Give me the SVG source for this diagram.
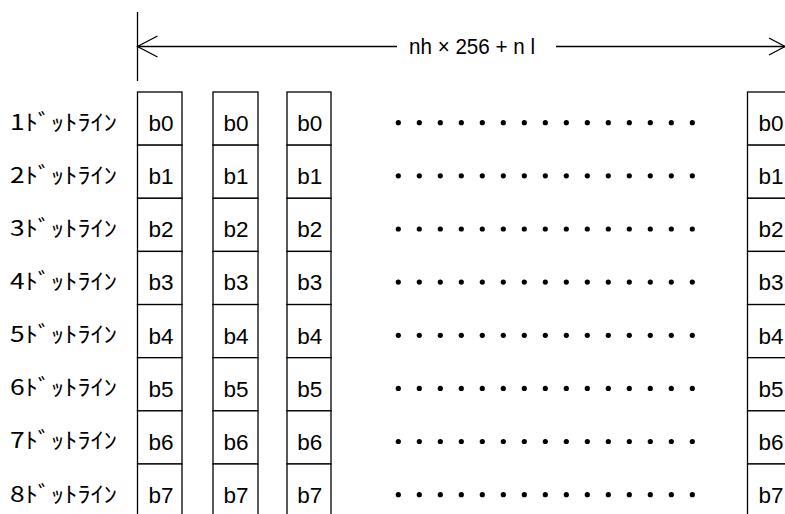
<svg xmlns="http://www.w3.org/2000/svg" width="785" height="514" viewBox="0 0 785 514">
<style>
.cell{fill:#fff;stroke:#000;stroke-width:1.3}
.bt{font-family:"Liberation Sans",Arial,sans-serif;font-size:22.5px;fill:#000}
.lb{font-family:"Noto Sans CJK JP","Liberation Sans",sans-serif;font-size:22px;fill:#000}
.ln{stroke:#000;stroke-width:1.3;fill:none}
.dot{fill:#000}
</style>
<defs>
<g id="dotrow">
<circle class="dot" cx="398.3" cy="0" r="2.6"/><circle class="dot" cx="419.3" cy="0" r="2.6"/><circle class="dot" cx="440.3" cy="0" r="2.6"/><circle class="dot" cx="461.3" cy="0" r="2.6"/><circle class="dot" cx="482.3" cy="0" r="2.6"/><circle class="dot" cx="503.3" cy="0" r="2.6"/><circle class="dot" cx="524.3" cy="0" r="2.6"/><circle class="dot" cx="545.3" cy="0" r="2.6"/><circle class="dot" cx="566.3" cy="0" r="2.6"/><circle class="dot" cx="587.3" cy="0" r="2.6"/><circle class="dot" cx="608.3" cy="0" r="2.6"/><circle class="dot" cx="629.3" cy="0" r="2.6"/><circle class="dot" cx="650.3" cy="0" r="2.6"/><circle class="dot" cx="671.3" cy="0" r="2.6"/><circle class="dot" cx="692.3" cy="0" r="2.6"/>
</g>
</defs>
<rect width="785" height="514" fill="#fff"/>
<g id="connectors">
<line class="ln" x1="137.5" y1="12" x2="137.5" y2="81"/>
<line class="ln" x1="137.5" y1="46.5" x2="397" y2="46.5"/>
<line class="ln" x1="556" y1="46.5" x2="785" y2="46.5"/>
<polyline class="ln" points="157.5,36 137.5,46.5 157.5,57"/>
<polyline class="ln" points="769,38 785,46.5 769,55"/>
<text class="bt" x="409" y="54" textLength="126" lengthAdjust="spacingAndGlyphs">nh × 256 + n l</text>
</g>
<g id="labels">
<text class="lb" x="10" y="129.5" textLength="107" lengthAdjust="spacingAndGlyphs">1ﾄﾞｯﾄﾗｲﾝ</text>
<text class="lb" x="10" y="182.6" textLength="107" lengthAdjust="spacingAndGlyphs">2ﾄﾞｯﾄﾗｲﾝ</text>
<text class="lb" x="10" y="235.8" textLength="107" lengthAdjust="spacingAndGlyphs">3ﾄﾞｯﾄﾗｲﾝ</text>
<text class="lb" x="10" y="288.9" textLength="107" lengthAdjust="spacingAndGlyphs">4ﾄﾞｯﾄﾗｲﾝ</text>
<text class="lb" x="10" y="342.1" textLength="107" lengthAdjust="spacingAndGlyphs">5ﾄﾞｯﾄﾗｲﾝ</text>
<text class="lb" x="10" y="395.2" textLength="107" lengthAdjust="spacingAndGlyphs">6ﾄﾞｯﾄﾗｲﾝ</text>
<text class="lb" x="10" y="448.3" textLength="107" lengthAdjust="spacingAndGlyphs">7ﾄﾞｯﾄﾗｲﾝ</text>
<text class="lb" x="10" y="501.5" textLength="107" lengthAdjust="spacingAndGlyphs">8ﾄﾞｯﾄﾗｲﾝ</text>
</g>
<g id="col1">
<rect class="cell" x="137.5" y="92" width="44.5" height="53.14"/>
<rect class="cell" x="137.5" y="145.14" width="44.5" height="53.14"/>
<rect class="cell" x="137.5" y="198.28" width="44.5" height="53.14"/>
<rect class="cell" x="137.5" y="251.42" width="44.5" height="53.14"/>
<rect class="cell" x="137.5" y="304.56" width="44.5" height="53.14"/>
<rect class="cell" x="137.5" y="357.7" width="44.5" height="53.14"/>
<rect class="cell" x="137.5" y="410.84" width="44.5" height="53.14"/>
<rect class="cell" x="137.5" y="463.98" width="44.5" height="60"/>
<text class="bt" x="148.5" y="131">b0</text><text class="bt" x="148.5" y="184.1">b1</text><text class="bt" x="148.5" y="237.3">b2</text><text class="bt" x="148.5" y="290.4">b3</text><text class="bt" x="148.5" y="343.6">b4</text><text class="bt" x="148.5" y="396.7">b5</text><text class="bt" x="148.5" y="449.8">b6</text><text class="bt" x="148.5" y="503">b7</text>
</g>
<g id="col2">
<rect class="cell" x="213" y="92" width="45" height="53.14"/>
<rect class="cell" x="213" y="145.14" width="45" height="53.14"/>
<rect class="cell" x="213" y="198.28" width="45" height="53.14"/>
<rect class="cell" x="213" y="251.42" width="45" height="53.14"/>
<rect class="cell" x="213" y="304.56" width="45" height="53.14"/>
<rect class="cell" x="213" y="357.7" width="45" height="53.14"/>
<rect class="cell" x="213" y="410.84" width="45" height="53.14"/>
<rect class="cell" x="213" y="463.98" width="45" height="60"/>
<text class="bt" x="223.5" y="131">b0</text><text class="bt" x="223.5" y="184.1">b1</text><text class="bt" x="223.5" y="237.3">b2</text><text class="bt" x="223.5" y="290.4">b3</text><text class="bt" x="223.5" y="343.6">b4</text><text class="bt" x="223.5" y="396.7">b5</text><text class="bt" x="223.5" y="449.8">b6</text><text class="bt" x="223.5" y="503">b7</text>
</g>
<g id="col3">
<rect class="cell" x="287" y="92" width="44" height="53.14"/>
<rect class="cell" x="287" y="145.14" width="44" height="53.14"/>
<rect class="cell" x="287" y="198.28" width="44" height="53.14"/>
<rect class="cell" x="287" y="251.42" width="44" height="53.14"/>
<rect class="cell" x="287" y="304.56" width="44" height="53.14"/>
<rect class="cell" x="287" y="357.7" width="44" height="53.14"/>
<rect class="cell" x="287" y="410.84" width="44" height="53.14"/>
<rect class="cell" x="287" y="463.98" width="44" height="60"/>
<text class="bt" x="297.2" y="131">b0</text><text class="bt" x="297.2" y="184.1">b1</text><text class="bt" x="297.2" y="237.3">b2</text><text class="bt" x="297.2" y="290.4">b3</text><text class="bt" x="297.2" y="343.6">b4</text><text class="bt" x="297.2" y="396.7">b5</text><text class="bt" x="297.2" y="449.8">b6</text><text class="bt" x="297.2" y="503">b7</text>
</g>
<g id="dots">
<use href="#dotrow" y="122.7"/><use href="#dotrow" y="175.8"/><use href="#dotrow" y="229"/><use href="#dotrow" y="282.1"/><use href="#dotrow" y="335.3"/><use href="#dotrow" y="388.4"/><use href="#dotrow" y="441.5"/><use href="#dotrow" y="494.7"/>
</g>
<g id="colN">
<rect class="cell" x="747.5" y="92" width="50" height="53.14"/>
<rect class="cell" x="747.5" y="145.14" width="50" height="53.14"/>
<rect class="cell" x="747.5" y="198.28" width="50" height="53.14"/>
<rect class="cell" x="747.5" y="251.42" width="50" height="53.14"/>
<rect class="cell" x="747.5" y="304.56" width="50" height="53.14"/>
<rect class="cell" x="747.5" y="357.7" width="50" height="53.14"/>
<rect class="cell" x="747.5" y="410.84" width="50" height="53.14"/>
<rect class="cell" x="747.5" y="463.98" width="50" height="60"/>
<text class="bt" x="758.5" y="131">b0</text><text class="bt" x="758.5" y="184.1">b1</text><text class="bt" x="758.5" y="237.3">b2</text><text class="bt" x="758.5" y="290.4">b3</text><text class="bt" x="758.5" y="343.6">b4</text><text class="bt" x="758.5" y="396.7">b5</text><text class="bt" x="758.5" y="449.8">b6</text><text class="bt" x="758.5" y="503">b7</text>
</g>
</svg>
